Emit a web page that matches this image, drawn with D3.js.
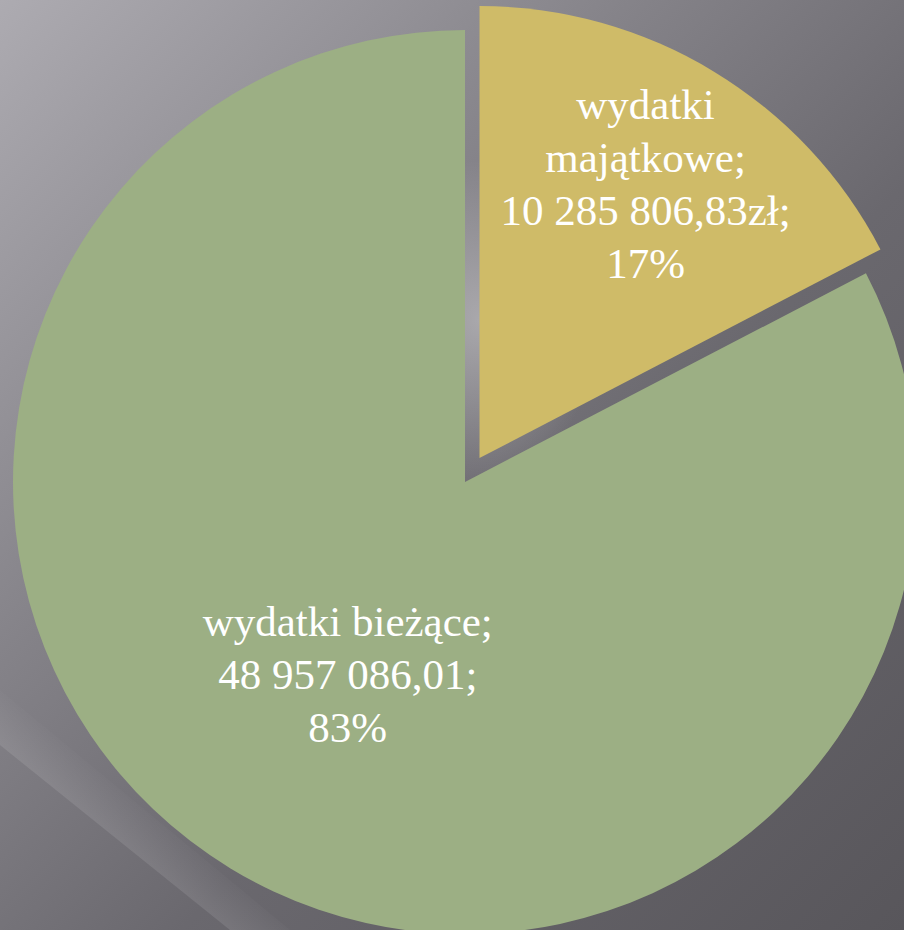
<!DOCTYPE html>
<html>
<head>
<meta charset="utf-8">
<script src="https://cdn.jsdelivr.net/npm/d3@7"></script>
<style>
  body { margin: 0; overflow: hidden; background: #67656b; }
</style>
</head>
<body>
<div id="dataViz"></div>
<script>
/* chart data */
const categoryLines = [["wydatki", "majątkowe;"], ["wydatki bieżące;"]];
const amounts = [10285806.83, 48957086.01];
const amountLabels = ["10 285 806,83zł;", "48 957 086,01;"];
const percentLabels = ["17%", "83%"];
const sliceColors = ["#cfbb68", "#9caf84"];

const width = 904, height = 930;
const cx = 465, cy = 482, radius = 452;
const explode = [28, 0];          // pull-out of each slice
const labelPos = [0.708, 0.5];    // label distance as part of radius
const lineH = 53;

const svg = d3.select("#dataViz")
    .append("svg")
    .attr("width", width)
    .attr("height", height);

/* background: grey gradient with soft light streaks */
const defs = svg.append("defs");
const bg = defs.append("linearGradient").attr("id", "bg")
    .attr("x1", "0").attr("y1", "0").attr("x2", "1").attr("y2", "1");
bg.append("stop").attr("offset", "0").attr("stop-color", "#adabb1");
bg.append("stop").attr("offset", "0.35").attr("stop-color", "#858389");
bg.append("stop").attr("offset", "0.6").attr("stop-color", "#6a686e");
bg.append("stop").attr("offset", "1").attr("stop-color", "#58565b");

const glow = defs.append("radialGradient").attr("id", "glow");
glow.append("stop").attr("offset", "0").attr("stop-color", "#ffffff").attr("stop-opacity", 0.35);
glow.append("stop").attr("offset", "1").attr("stop-color", "#ffffff").attr("stop-opacity", 0);

// band fading upward from its sharp lower edge
const streak = defs.append("linearGradient").attr("id", "streak")
    .attr("gradientUnits", "userSpaceOnUse")
    .attr("x1", 40).attr("y1", 777).attr("x2", 70).attr("y2", 740);
streak.append("stop").attr("offset", "0").attr("stop-color", "#ffffff").attr("stop-opacity", 0.1);
streak.append("stop").attr("offset", "1").attr("stop-color", "#ffffff").attr("stop-opacity", 0);

svg.append("rect").attr("width", width).attr("height", height).attr("fill", "url(#bg)");
svg.append("path")
    .attr("d", "M0,745 L230,930 L290,930 L0,690 Z")
    .attr("fill", "url(#streak)");
svg.append("ellipse")
    .attr("cx", 480).attr("cy", 320).attr("rx", 120).attr("ry", 160)
    .attr("fill", "url(#glow)");

/* pie */
const data = amounts.map((v, i) => ({ i: i, amount: v }));
const pie = d3.pie().sort(null).value(d => d.amount);
const arc = d3.arc().innerRadius(0).outerRadius(radius);
const arcs = pie(data);

const midAngle = d => (d.startAngle + d.endAngle) / 2;
const offset = (d, r) => [Math.sin(midAngle(d)) * r, -Math.cos(midAngle(d)) * r];

const g = svg.append("g").attr("transform", `translate(${cx},${cy})`);

const slice = g.selectAll("g.slice")
    .data(arcs)
    .enter()
    .append("g")
    .attr("class", "slice")
    .attr("transform", d => {
        const o = offset(d, explode[d.data.i]);
        return `translate(${o[0]},${o[1]})`;
    });

slice.append("path")
    .attr("d", arc)
    .attr("fill", d => sliceColors[d.data.i]);

/* labels */
slice.each(function(d) {
    const i = d.data.i;
    const lines = categoryLines[i].concat([amountLabels[i], percentLabels[i]]);
    const p = offset(d, radius * labelPos[i]);
    const t = d3.select(this).append("text")
        .attr("text-anchor", "middle")
        .attr("font-family", "'Liberation Serif', serif")
        .attr("font-size", "43px")
        .attr("fill", "#ffffff");
    lines.forEach((s, k) => {
        t.append("tspan")
            .attr("x", p[0])
            .attr("y", p[1] + (k - (lines.length - 1) / 2) * lineH + 14)
            .text(s);
    });
});
</script>
</body>
</html>
